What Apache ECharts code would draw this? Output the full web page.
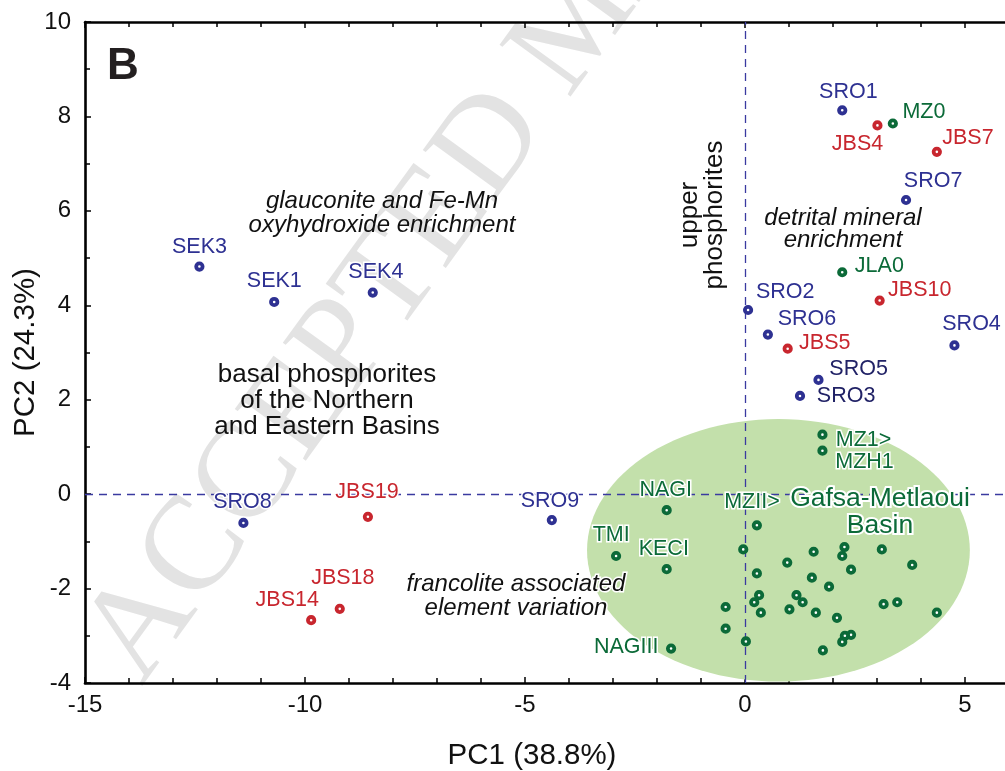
<!DOCTYPE html>
<html><head><meta charset="utf-8">
<script src="https://cdn.jsdelivr.net/npm/echarts@6/dist/echarts.min.js"></script>
<style>html,body{margin:0;padding:0;background:#fff}#c{width:1005px;height:771px}</style>
</head><body><div id="c"></div>
<script>
// ---- data (PC1, PC2 scores) ----
const blueNames = ['SRO1','SRO7','SRO2','SRO6','SRO4','SRO5','SRO3','SEK3','SEK1','SEK4','SRO8','SRO9'];
const bluePC1   = [2.21, 3.66, 0.07, 0.52, 4.76, 1.67, 1.25, -12.40, -10.70, -8.46, -11.40, -4.39];
const bluePC2   = [8.13, 6.23, 3.90, 3.38, 3.15, 2.42, 2.08, 4.82, 4.07, 4.27, -0.61, -0.55];

const redNames = ['JBS4','JBS7','JBS10','JBS5','JBS19','JBS18','JBS14'];
const redPC1   = [3.01, 4.36, 3.06, 0.97, -8.57, -9.21, -9.86];
const redPC2   = [7.81, 7.25, 4.10, 3.08, -0.48, -2.43, -2.67];

const greenNames = ['MZ0','JLA0','MZ1>','MZH1','NAGI','MZII>','TMI','KECI','NAGIII',
  '','','','','','','','','','','','','','','','','','','','','','','','','','','','',''];
const greenPC1 = [3.36, 2.21, 1.76, 1.76, -1.78, 0.27, -2.93, -1.78, -1.68,
  -0.04, 1.56, 2.26, 2.21, 3.11, 0.96, 3.80, 0.27, 2.41, 1.52, 1.91, 0.32, 1.17, 0.21, 1.31,
  -0.44, 0.36, 1.01, 1.61, 2.09, 3.15, 3.46, 4.36, -0.44, 0.02, 2.21, 2.41, 2.27, 1.77, 3.31];
const greenPC2 = [7.85, 4.70, 1.26, 0.92, -0.34, -0.66, -1.31, -1.59, -3.27,
  -1.17, -1.22, -1.12, -1.31, -1.17, -1.45, -1.50, -1.68, -1.60, -1.77, -1.96, -2.14, -2.14, -2.29, -2.29,
  -2.39, -2.51, -2.44, -2.51, -2.62, -2.33, -2.29, -2.51, -2.85, -3.12, -3.13, -2.98, -3.00, -3.31, -3.35];

// Gafsa-Metlaoui field (ellipse): centre and semi-axes in PC units
const ellipseCentre = [0.76, -1.19];
const ellipseRadii  = [4.35, 2.78];

const xTicks = [-15, -10, -5, 0, 5];
const yTicks = [-4, -2, 0, 2, 4, 6, 8, 10];

// ---- label placement (style only): text centre relative to the point, px ----
const labelOffset = {
  SRO1:[8,-16], SRO7:[29,-17], SRO2:[39,-16], SRO6:[41,-14], SRO4:[19,-19], SRO5:[42,-9], SRO3:[48,2],
  SEK3:[2,-18], SEK1:[2,-19], SEK4:[5,-19], SRO8:[1,-19], SRO9:[0,-17],
  JBS4:[-18,21], JBS7:[33,-12], JBS10:[42,-9], JBS5:[39,-4], JBS19:[1,-23], JBS18:[5,-29], JBS14:[-22,-18],
  MZ0:[33,-10], JLA0:[39,-4], 'MZ1>':[43,7], MZH1:[44,13], NAGI:[1,-18], 'MZII>':[-3,-21],
  TMI:[-3,-19], KECI:[-1,-18], NAGIII:[-43,0]
};
const darkLabels = { SRO5: '#212266', SRO3: '#212266' };

const BLUE = '#2e3192', RED = '#c8262e', GREEN = '#0b6a38';
const FONT = 'Arial, "Liberation Sans", sans-serif';
const SYM = 6.4, SYM_BORDER = 3.8;

function buildData(names, xs, ys) {
  return names.map((n, i) => {
    const d = { name: n, value: [xs[i], ys[i]] };
    if (n && labelOffset[n]) {
      const o = labelOffset[n];
      d.label = { show: true, position: [SYM / 2 + o[0], SYM / 2 + o[1]] };
      if (darkLabels[n]) d.label.color = darkLabels[n];
    } else {
      d.label = { show: false };
    }
    return d;
  });
}

function scatterSeries(name, color, data) {
  return {
    name, type: 'scatter', data, z: 5,
    symbol: 'circle', symbolSize: SYM,
    itemStyle: { color: '#fff', borderColor: color, borderWidth: SYM_BORDER, opacity: 1 },
    label: {
      show: true, align: 'center', verticalAlign: 'middle',
      formatter: p => p.name, color: color, fontSize: 21.5, fontFamily: FONT,
      textBorderColor: '#fff', textBorderWidth: 3
    },
    emphasis: { disabled: true }
  };
}

const chart = echarts.init(document.getElementById('c'), null, { renderer: 'canvas' });

const axisCommon = {
  type: 'value',
  axisLine: { show: true, onZero: false, lineStyle: { color: '#000', width: 2.6 } },
  axisTick: { show: true, inside: true, length: 6, lineStyle: { color: '#000', width: 1.5 } },
  minorTick: { show: true, length: 5, lineStyle: { color: '#000', width: 1.5 } },
  splitLine: { show: false },
  minorSplitLine: { show: false }
};

const option = {
  backgroundColor: '#fff',
  animation: false,
  textStyle: { fontFamily: FONT },
  grid: { left: 85, right: -4, top: 22, bottom: 88, containLabel: false, outerBoundsMode: 'none' },
  xAxis: [
    Object.assign({}, axisCommon, {
      position: 'bottom', min: -15, max: 6, interval: 5,
      minorTick: Object.assign({}, axisCommon.minorTick, { splitNumber: 5 }),
      axisLabel: { fontSize: 24, color: '#111', margin: 10, fontFamily: FONT,
        formatter: v => (xTicks.indexOf(v) >= 0 ? String(v) : '') },
      name: 'PC1 (38.8%)', nameLocation: 'middle', nameGap: 58,
      nameTextStyle: { fontSize: 29.5, color: '#111', fontFamily: FONT, padding: [0, 30, 0, 0] }
    }),
    Object.assign({}, axisCommon, {
      position: 'top', min: -15, max: 6, interval: 5,
      minorTick: Object.assign({}, axisCommon.minorTick, { splitNumber: 5 }),
      axisLabel: { show: false }
    })
  ],
  yAxis: [
    Object.assign({}, axisCommon, {
      position: 'left', min: -4, max: 10, interval: 2,
      minorTick: Object.assign({}, axisCommon.minorTick, { splitNumber: 2 }),
      axisLabel: { fontSize: 24, color: '#111', margin: 14, fontFamily: FONT,
        formatter: v => (yTicks.indexOf(v) >= 0 ? String(v) : '') },
      name: 'PC2 (24.3%)', nameLocation: 'middle', nameGap: 44, nameMoveOverlap: false,
      nameTextStyle: { fontSize: 29.5, color: '#111', fontFamily: FONT }
    })
  ],
  graphic: [
    { type: 'text', z: 0, x: 113, y: 666, rotation: 54 * Math.PI / 180, silent: true,
      style: { text: 'ACCEPTED MANUSCRIPT', font: '134px "Liberation Serif", serif',
        fill: '#e3e3e3', textVerticalAlign: 'middle', textAlign: 'left' } },
    { type: 'text', z: 10, x: 107, y: 67, silent: true,
      style: { text: 'B', font: 'bold 44px Arial, "Liberation Sans", sans-serif', fill: '#231f20',
        textAlign: 'left', textVerticalAlign: 'middle' } },
    { type: 'text', z: 10, x: 382, y: 213, silent: true,
      style: { text: 'glauconite and Fe-Mn\noxyhydroxide enrichment', font: 'italic 24px Arial, "Liberation Sans", sans-serif',
        lineHeight: 24, fill: '#111', textAlign: 'center', textVerticalAlign: 'middle' } },
    { type: 'text', z: 10, x: 327, y: 401, silent: true,
      style: { text: 'basal phosphorites\nof the Northern\nand Eastern Basins', font: '26px Arial, "Liberation Sans", sans-serif',
        lineHeight: 26, fill: '#111', textAlign: 'center', textVerticalAlign: 'middle' } },
    { type: 'text', z: 10, x: 702, y: 215, rotation: Math.PI / 2, silent: true,
      style: { text: 'upper\nphosphorites', font: '26px Arial, "Liberation Sans", sans-serif',
        lineHeight: 25, fill: '#111', textAlign: 'center', textVerticalAlign: 'middle' } },
    { type: 'text', z: 10, x: 843, y: 229, silent: true,
      style: { text: 'detrital mineral\nenrichment', font: 'italic 24px Arial, "Liberation Sans", sans-serif',
        lineHeight: 22, fill: '#111', textAlign: 'center', textVerticalAlign: 'middle' } },
    { type: 'text', z: 10, x: 516, y: 596, silent: true,
      style: { text: 'francolite associated\nelement variation', font: 'italic 24px Arial, "Liberation Sans", sans-serif',
        lineHeight: 24, fill: '#111', textAlign: 'center', textVerticalAlign: 'middle',
        stroke: '#fff', lineWidth: 3 } },
    { type: 'text', z: 10, x: 880, y: 512, silent: true,
      style: { text: 'Gafsa-Metlaoui\nBasin', font: '26.5px Arial, "Liberation Sans", sans-serif',
        lineHeight: 27, fill: GREEN, textAlign: 'center', textVerticalAlign: 'middle',
        stroke: '#fff', lineWidth: 4 } }
  ],
  series: [
    {
      name: 'Gafsa-Metlaoui Basin field', type: 'custom', z: 1, silent: true,
      data: [[ellipseCentre[0], ellipseCentre[1], ellipseRadii[0], ellipseRadii[1]]],
      encode: { x: 0, y: 1 },
      renderItem: function (params, api) {
        const cx = api.value(0), cy = api.value(1), rx = api.value(2), ry = api.value(3);
        const pts = [];
        for (let k = 0; k < 120; k++) {
          const t = k / 120 * Math.PI * 2;
          pts.push(api.coord([cx + rx * Math.cos(t), cy + ry * Math.sin(t)]));
        }
        return { type: 'polygon', shape: { points: pts }, style: { fill: '#c3e0ab', stroke: null } };
      }
    },
    {
      name: 'axes', type: 'line', data: [], z: 2, silent: true,
      markLine: {
        silent: true, symbol: 'none', label: { show: false },
        lineStyle: { type: [8, 6], color: '#3a3aa0', width: 1.3 },
        emphasis: { disabled: true },
        data: [{ xAxis: 0 }, { yAxis: 0 }]
      }
    },
    scatterSeries('Northern/Eastern & SRO', BLUE, buildData(blueNames, bluePC1, bluePC2)),
    scatterSeries('JBS', RED, buildData(redNames, redPC1, redPC2)),
    scatterSeries('Gafsa-Metlaoui', GREEN, buildData(greenNames, greenPC1, greenPC2))
  ]
};
chart.setOption(option);
</script>
</body></html>
